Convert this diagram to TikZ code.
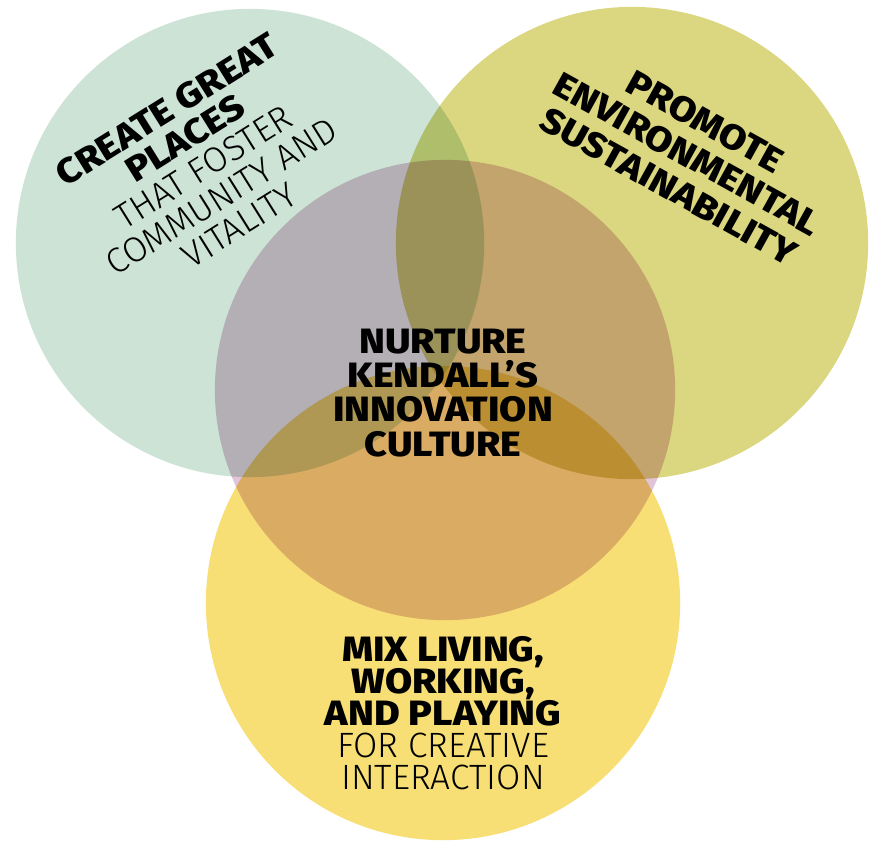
\documentclass[tikz,border=0pt]{standalone}
\usepackage{fontspec}
\setmainfont{Fira Sans}
\newfontfamily\heavyfont{Fira Sans ExtraBold}[FakeStretch=1.12]
\newfontfamily\thinfont{Fira Sans Light}
\usetikzlibrary{positioning}

\definecolor{mint}{RGB}{204,227,214}
\definecolor{khaki}{RGB}{219,214,128}
\definecolor{sunny}{RGB}{247,223,117}
\definecolor{lilac}{RGB}{226,196,216}

\begin{document}
\begin{tikzpicture}[
    x=0.01cm, y=-0.01cm,
    goal/.style={circle, inner sep=0pt, outer sep=0pt},
    label/.style={align=center, inner sep=0pt, font=\fontsize{10}{9.7}\selectfont}
]
\useasboundingbox (0,0) rectangle (874,842);

% Circles
\begin{scope}[blend mode=multiply]
\node[goal, fill=mint, minimum size=4.68cm] (places) at (250,243) {};
\node[goal, fill=khaki, minimum size=4.72cm] (green) at (632,243) {};
\node[goal, fill=sunny, minimum size=4.74cm] (mix) at (443,603) {};
\node[goal, fill=lilac, minimum size=4.6cm] (innov) at (445,390) {};
\end{scope}

% Labels
\node[label, rotate=32] (placestxt) at (203,167)
  {\heavyfont CREATE GREAT\\\heavyfont PLACES\\\thinfont THAT FOSTER\\\thinfont COMMUNITY AND\\\thinfont VITALITY};
\node[label, rotate=-29, font=\fontsize{10}{10.6}\selectfont] (greentxt) at (687,154)
  {\heavyfont PROMOTE\\\heavyfont ENVIRONMENTAL\\\heavyfont SUSTAINABILITY};
\node[label] (innovtxt) at (443,393)
  {\heavyfont NURTURE\\\heavyfont KENDALL’S\\\heavyfont INNOVATION\\\heavyfont CULTURE};
\node[label, font=\fontsize{10}{9.1}\selectfont] (mixtxt) at (443,713)
  {\heavyfont MIX LIVING,\\\heavyfont WORKING,\\\heavyfont AND PLAYING\\\thinfont FOR CREATIVE\\\thinfont INTERACTION};

\end{tikzpicture}
\end{document}
